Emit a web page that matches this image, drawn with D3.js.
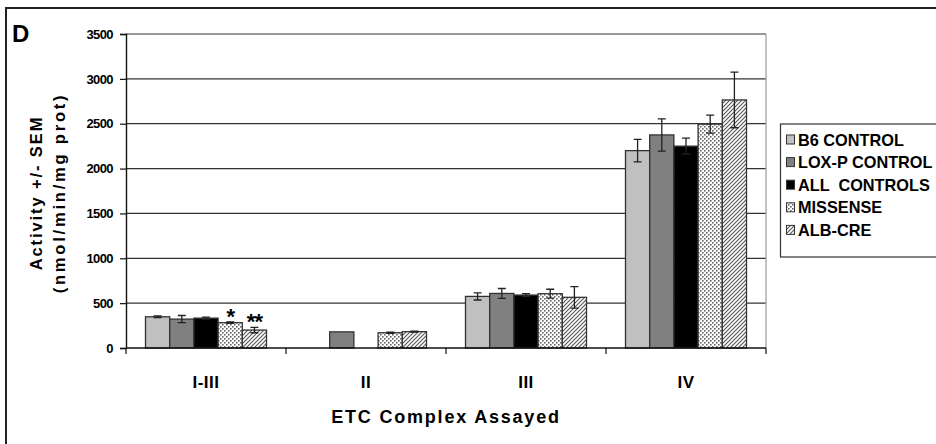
<!DOCTYPE html>
<html>
<head>
<meta charset="utf-8">
<script src="https://cdn.jsdelivr.net/npm/d3@7"></script>
<style>
  html, body { margin: 0; padding: 0; background: #fff; }
  svg { display: block; font-family: "Liberation Sans", Arial, sans-serif; }
</style>
</head>
<body>
<svg id="chart" width="936" height="444"></svg>
<script>
// ETC complex activities by genotype group
const complexes = ["I-III", "II", "III", "IV"];
const seriesNames = ["B6 CONTROL", "LOX-P CONTROL", "ALL  CONTROLS", "MISSENSE", "ALB-CRE"];
const b6Control    = [348, null, 575, 2200];
const loxpControl  = [322, 180, 608, 2375];
const allControls  = [333, null, 590, 2250];
const missense     = [282, 170, 605, 2495];
const albCre       = [200, 182, 565, 2765];
const b6Sem        = [10, null, 40, 125];
const loxpSem      = [40, 0, 55, 180];
const allSem       = [12, null, 15, 90];
const missenseSem  = [8, 8, 50, 100];
const albCreSem    = [30, 5, 120, 310];
const significance = [["", "", "", "*", "**"], ["", "", "", "", ""], ["", "", "", "", ""], ["", "", "", "", ""]];
const yTicks = [0, 500, 1000, 1500, 2000, 2500, 3000, 3500];

const values = [b6Control, loxpControl, allControls, missense, albCre];
const sems = [b6Sem, loxpSem, allSem, missenseSem, albCreSem];

const svg = d3.select("#chart");
const defs = svg.append("defs");

// dotted fill
const dots = defs.append("pattern").attr("id", "dots").attr("patternUnits", "userSpaceOnUse")
  .attr("width", 4).attr("height", 4);
dots.append("rect").attr("width", 4).attr("height", 4).attr("fill", "#fff");
dots.append("rect").attr("x", 0).attr("y", 0).attr("width", 1.6).attr("height", 1.6).attr("fill", "#666");
dots.append("rect").attr("x", 2).attr("y", 2).attr("width", 1.6).attr("height", 1.6).attr("fill", "#666");

// diagonal hatch
const hatch = defs.append("pattern").attr("id", "hatch").attr("patternUnits", "userSpaceOnUse")
  .attr("width", 4).attr("height", 4);
hatch.append("rect").attr("width", 4).attr("height", 4).attr("fill", "#fff");
hatch.append("path").attr("d", "M-1,1 l2,-2 M0,4 l4,-4 M3,5 l2,-2")
  .attr("stroke", "#555").attr("stroke-width", 1.1);

const fills = ["#c0c0c0", "#808080", "#000000", "url(#dots)", "url(#hatch)"];

// outer frame (only top and left edges fall within the view)
svg.append("path").attr("d", "M6,444 V8 H936").attr("fill", "none")
  .attr("stroke", "#222").attr("stroke-width", 2);

svg.append("text").attr("x", 12).attr("y", 42).attr("font-size", 24).attr("font-weight", "bold")
  .text("D");

const plot = { left: 126, right: 766, top: 34, bottom: 348 };

const y = d3.scaleLinear().domain([0, 3500]).range([plot.bottom, plot.top]);
const x0 = d3.scaleBand().domain(complexes).range([plot.left, plot.right]).padding(0);
const x1 = d3.scaleBand().domain(d3.range(seriesNames.length))
  .range([19.5, x0.bandwidth() - 19.5]).padding(0);

// gridlines
svg.append("g").selectAll("line").data(yTicks.filter(t => t > 0)).join("line")
  .attr("x1", plot.left).attr("x2", plot.right)
  .attr("y1", d => y(d)).attr("y2", d => y(d))
  .attr("stroke", "#333").attr("stroke-width", 1.2);

// plot area right edge
svg.append("line").attr("x1", plot.right).attr("x2", plot.right)
  .attr("y1", plot.top).attr("y2", plot.bottom)
  .attr("stroke", "#999").attr("stroke-width", 1.2);

// bars
const groups = svg.append("g").selectAll("g").data(complexes).join("g")
  .attr("transform", d => `translate(${x0(d)},0)`);

groups.each(function(c, ci) {
  const g = d3.select(this);
  seriesNames.forEach((s, si) => {
    const v = values[si][ci];
    if (v === null) return;
    g.append("rect")
      .attr("x", x1(si)).attr("width", x1.bandwidth())
      .attr("y", y(v)).attr("height", y(0) - y(v))
      .attr("fill", fills[si]).attr("stroke", "#333").attr("stroke-width", 1.3);
  });
  seriesNames.forEach((s, si) => {
    const v = values[si][ci];
    const e = sems[si][ci];
    if (v === null || !e) return;
    const cx = x1(si) + x1.bandwidth() / 2;
    g.append("path")
      .attr("d", `M${cx - 4},${y(v + e)} H${cx + 4} M${cx},${y(v + e)} V${y(v - e)} M${cx - 4},${y(v - e)} H${cx + 4}`)
      .attr("fill", "none").attr("stroke", "#222").attr("stroke-width", 1.3);
  });
  seriesNames.forEach((s, si) => {
    const mark = significance[ci][si];
    if (!mark) return;
    const v = values[si][ci];
    const e = sems[si][ci] || 0;
    g.append("text")
      .attr("x", x1(si) + x1.bandwidth() / 2).attr("y", y(v + e) + 2)
      .attr("text-anchor", "middle").attr("font-size", 22).attr("font-weight", "bold")
      .attr("letter-spacing", -1)
      .text(mark);
  });
});

// y axis
const yAxis = d3.axisLeft(y).tickValues(yTicks).tickFormat(d3.format("d")).tickSize(6).tickPadding(7);
const yg = svg.append("g").attr("transform", `translate(${plot.left},0)`).call(yAxis);
yg.select(".domain").attr("stroke", "#111").attr("stroke-width", 1.4);
yg.selectAll(".tick line").attr("stroke", "#111").attr("stroke-width", 1.2);
yg.selectAll(".tick text").attr("font-size", 13).attr("font-weight", "bold")
  .attr("letter-spacing", -0.6).attr("fill", "#000").attr("font-family", "'Liberation Sans', Arial, sans-serif");

// x axis with ticks between categories
const xAxisG = svg.append("g");
xAxisG.append("line").attr("x1", plot.left).attr("x2", plot.right)
  .attr("y1", plot.bottom).attr("y2", plot.bottom)
  .attr("stroke", "#111").attr("stroke-width", 1.4);
const boundaries = complexes.map(c => x0(c)).concat([x0(complexes[complexes.length - 1]) + x0.bandwidth()]);
xAxisG.selectAll("line.tk").data(boundaries).join("line").attr("class", "tk")
  .attr("x1", d => d).attr("x2", d => d)
  .attr("y1", plot.bottom).attr("y2", plot.bottom + 6)
  .attr("stroke", "#111").attr("stroke-width", 1.2);
xAxisG.selectAll("text").data(complexes).join("text")
  .attr("x", d => x0(d) + x0.bandwidth() / 2).attr("y", 388)
  .attr("text-anchor", "middle").attr("font-size", 17).attr("font-weight", "bold")
  .attr("letter-spacing", 0.5)
  .text(d => d);

svg.append("text").attr("x", (plot.left + plot.right) / 2).attr("y", 423)
  .attr("text-anchor", "middle").attr("font-size", 18).attr("font-weight", "bold")
  .attr("letter-spacing", 1.8)
  .text("ETC Complex Assayed");

// y axis title (two lines)
const yTitle = svg.append("g").attr("transform", "translate(36,193) rotate(-90)");
yTitle.append("text").attr("x", 0).attr("y", 6).attr("text-anchor", "middle")
  .attr("font-size", 16.5).attr("font-weight", "bold").attr("letter-spacing", 1.9)
  .text("Activity +/- SEM");
yTitle.append("text").attr("x", 0).attr("y", 29).attr("text-anchor", "middle")
  .attr("font-size", 16.5).attr("font-weight", "bold").attr("letter-spacing", 2.8)
  .text("(nmol/min/mg prot)");

// legend
const legend = svg.append("g");
legend.append("rect").attr("x", 780.5).attr("y", 124).attr("width", 170).attr("height", 133)
  .attr("fill", "#fff").attr("stroke", "#333").attr("stroke-width", 1.2);
seriesNames.forEach((s, i) => {
  const ly = 139.5 + i * 22.6;
  legend.append("rect").attr("x", 786.5).attr("y", ly - 4.5).attr("width", 8).attr("height", 9)
    .attr("fill", fills[i]).attr("stroke", "#333").attr("stroke-width", 1);
  legend.append("text").attr("x", 798).attr("y", ly + 6)
    .attr("font-size", 16.3).attr("font-weight", "bold")
    .style("white-space", "pre")
    .text(s);
});
</script>
</body>
</html>
